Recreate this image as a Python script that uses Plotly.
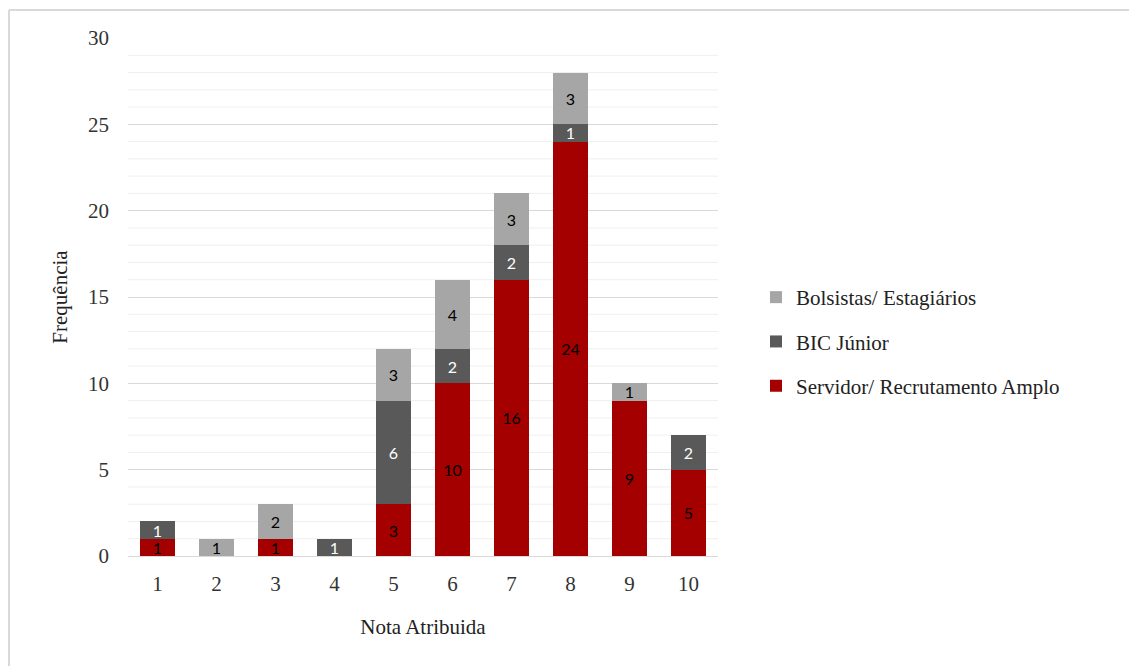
import plotly.graph_objects as go

categories = ["1", "2", "3", "4", "5", "6", "7", "8", "9", "10"]
servidor = [1, 0, 1, 0, 3, 10, 16, 24, 9, 5]
bic = [1, 0, 0, 1, 6, 2, 2, 1, 0, 2]
bolsistas = [0, 1, 2, 0, 3, 4, 3, 3, 1, 0]
y_ticks = [0, 5, 10, 15, 20, 25, 30]

L, R, T, B = 128, 411, 38, 110
W, H = 1129, 666
pw, ph = W - L - R, H - T - B

def px(x):
    return (x - L) / pw

def py(y):
    return (H - B - y) / ph

label_font = dict(family="Lato, Open Sans, sans-serif", size=16)

def txt(vals):
    return [str(v) if v else "" for v in vals]

fig = go.Figure()
fig.add_trace(go.Bar(
    name="Servidor/ Recrutamento Amplo", x=categories, y=servidor, legendgroup="a", legendrank=3,
    marker=dict(color="#A50000", line=dict(width=0)),
    text=txt(servidor), textposition="inside", insidetextanchor="middle",
    textfont=dict(color="black", **label_font), textangle=0, constraintext="none",
))
fig.add_trace(go.Bar(
    name="BIC Júnior", x=categories, y=bic, legendgroup="b", legendrank=2,
    marker=dict(color="#595959", line=dict(width=0)),
    text=txt(bic), textposition="inside", insidetextanchor="middle",
    textfont=dict(color="white", **label_font), textangle=0, constraintext="none",
))
fig.add_trace(go.Bar(
    name="Bolsistas/ Estagiários", x=categories, y=bolsistas, legendgroup="c", legendrank=1,
    marker=dict(color="#A6A6A6", line=dict(width=0)),
    text=txt(bolsistas), textposition="inside", insidetextanchor="middle",
    textfont=dict(color="black", **label_font), textangle=0, constraintext="none",
))

# minor gridlines every 1 unit
shapes = []
for v in range(0, 31):
    if v % 5 == 0:
        continue
    shapes.append(dict(type="line", xref="paper", yref="y", x0=0, x1=1, y0=v, y1=v,
                       line=dict(color="#EFEFEF", width=1), layer="below"))
# outer frame
shapes.append(dict(type="line", xref="paper", yref="paper", x0=px(9), x1=px(W + 5),
                   y0=py(10), y1=py(10), line=dict(color="#D9D9D9", width=2)))
shapes.append(dict(type="line", xref="paper", yref="paper", x0=px(9), x1=px(9),
                   y0=py(10), y1=py(H + 5), line=dict(color="#D9D9D9", width=2)))

fig.update_layout(
    barmode="stack",
    bargap=0.42,
    width=W, height=H,
    margin=dict(l=L, r=R, t=T, b=B),
    paper_bgcolor="white", plot_bgcolor="white",
    font=dict(family="Liberation Serif, Times New Roman, serif", size=21, color="#333333"),
    shapes=shapes,
    legend=dict(
        x=px(756), y=py(277), xanchor="left", yanchor="top",
        traceorder="grouped",
        font=dict(family="Liberation Serif, serif", size=21, color="#222222"),
        itemwidth=30, tracegroupgap=14,
        bgcolor="rgba(0,0,0,0)",
    ),
    xaxis=dict(
        title=dict(text="Nota Atribuida", font=dict(size=21, color="#222222"), standoff=24),
        showgrid=False, ticks="", tickfont=dict(size=21, color="#333333"),
        showline=False, ticklabelstandoff=13,
    ),
    yaxis=dict(
        title=dict(text="Frequência", font=dict(size=21, color="#222222"), standoff=14),
        range=[0, 30], tickvals=y_ticks, showgrid=True, gridcolor="#D9D9D9", gridwidth=1,
        zeroline=True, zerolinecolor="#D9D9D9", zerolinewidth=1,
        tickfont=dict(size=21, color="#333333"), ticks="", ticklabelstandoff=18,
    ),
)

fig.write_html("out.html")
